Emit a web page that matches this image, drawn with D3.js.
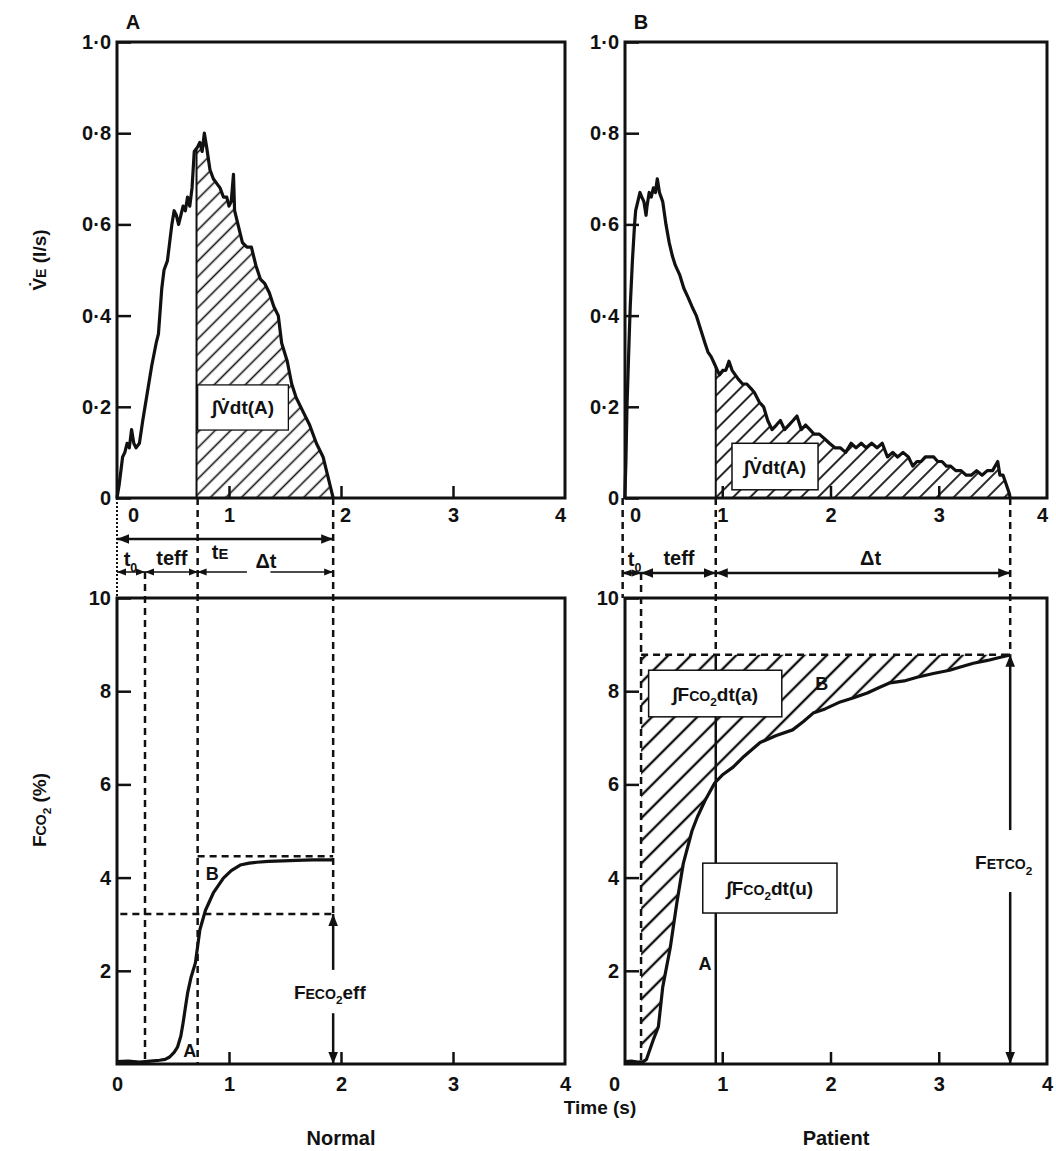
<!DOCTYPE html>
<html>
<head>
<meta charset="utf-8">
<title>Expired flow and CO2 - normal and patient</title>
<script src="https://cdnjs.cloudflare.com/ajax/libs/d3/7.8.5/d3.min.js"></script>
<style>
  body { margin: 0; background: #fff; }
  svg { font-family: 'Liberation Sans', Arial, sans-serif; font-weight: bold; }
  .tick text { font-size: 20px; font-weight: bold; fill: #111; }
  .tick line { stroke: #111; stroke-width: 2.5; }
</style>
</head>
<body>
<div id="chart"></div>
<script>
// ---- data ----
// A: normal subject, expiratory flow (l/s)
var normalTime = [0.00,0.02,0.05,0.07,0.09,0.11,0.13,0.15,0.17,0.20,0.23,0.27,0.31,0.35,0.37,0.40,0.42,0.45,0.47,0.49,
  0.51,0.53,0.55,0.57,0.59,0.61,0.63,0.65,0.67,0.69,0.72,0.74,0.76,0.78,0.80,0.83,0.86,0.89,0.92,0.95,0.98,1.00,1.02,
  1.04,1.05,1.08,1.12,1.16,1.20,1.24,1.28,1.32,1.36,1.40,1.44,1.47,1.52,1.56,1.60,1.66,1.72,1.78,1.84,1.88,1.91,1.93];
var normalFlow = [0.00,0.03,0.09,0.10,0.12,0.11,0.15,0.12,0.11,0.12,0.17,0.23,0.29,0.34,0.36,0.46,0.50,0.52,0.56,0.60,
  0.63,0.62,0.60,0.62,0.64,0.63,0.66,0.64,0.68,0.76,0.77,0.78,0.76,0.80,0.77,0.72,0.70,0.69,0.68,0.66,0.66,0.64,0.65,
  0.71,0.63,0.60,0.56,0.55,0.55,0.51,0.48,0.47,0.45,0.42,0.40,0.34,0.30,0.25,0.22,0.19,0.16,0.12,0.09,0.05,0.02,0.00];
// A: normal subject, CO2 fraction (%)
var normalCO2Time = [0,0.1,0.2,0.3,0.38,0.43,0.47,0.51,0.54,0.57,0.59,0.61,0.63,0.66,0.70,0.74,0.79,0.86,0.95,1.02,
  1.10,1.18,1.25,1.35,1.48,1.60,1.75,1.93];
var normalCO2 = [0.05,0.06,0.04,0.06,0.08,0.10,0.15,0.25,0.36,0.60,0.88,1.20,1.52,1.85,2.17,2.88,3.30,3.67,3.99,4.15,
  4.27,4.31,4.33,4.35,4.36,4.37,4.38,4.38];
// A: time marks (start, t0 end, teff end, end of expiration) and CO2 levels
var normalMarks = [0, 0.25, 0.72, 1.93];
var normalPlateau = 4.46;
var normalEff = 3.22;

// B: patient, expiratory flow (l/s)
var patientTime = [0.10,0.11,0.12,0.14,0.15,0.17,0.19,0.20,0.22,0.24,0.257,0.276,0.296,0.305,0.325,0.344,0.364,0.383,
  0.40,0.42,0.45,0.48,0.51,0.54,0.567,0.606,0.645,0.684,0.72,0.76,0.80,0.84,0.868,0.897,0.917,0.936,0.955,0.975,1.004,
  1.033,1.062,1.091,1.12,1.15,1.188,1.227,1.266,1.30,1.343,1.382,1.42,1.46,1.50,1.537,1.576,1.615,1.654,1.69,1.73,1.77,
  1.81,1.848,1.896,1.945,1.99,2.04,2.09,2.14,2.19,2.236,2.284,2.33,2.38,2.43,2.478,2.526,2.575,2.62,2.67,2.72,2.76,
  2.798,2.837,2.876,2.915,2.954,2.99,3.03,3.07,3.11,3.157,3.206,3.254,3.30,3.35,3.40,3.448,3.497,3.545,3.565,3.594,
  3.623,3.652,3.66];
var patientFlow = [0.00,0.08,0.20,0.35,0.42,0.52,0.60,0.63,0.65,0.67,0.66,0.65,0.62,0.64,0.67,0.66,0.68,0.67,
  0.70,0.67,0.65,0.60,0.56,0.53,0.51,0.49,0.46,0.44,0.42,0.40,0.37,0.34,0.32,0.31,0.30,0.29,0.28,0.27,0.28,
  0.28,0.30,0.28,0.27,0.26,0.25,0.25,0.24,0.23,0.21,0.20,0.17,0.15,0.16,0.17,0.15,0.16,0.17,0.18,0.15,0.16,
  0.15,0.14,0.14,0.13,0.12,0.11,0.11,0.10,0.12,0.11,0.12,0.11,0.12,0.11,0.12,0.09,0.10,0.09,0.10,0.09,0.07,
  0.08,0.08,0.09,0.09,0.09,0.08,0.08,0.07,0.07,0.06,0.06,0.05,0.05,0.06,0.05,0.06,0.06,0.08,0.05,0.05,
  0.03,0.01,0.00];
// B: patient, CO2 fraction (%)
var patientCO2Time = [0.11,0.16,0.22,0.27,0.30,0.33,0.36,0.41,0.45,0.52,0.58,0.64,0.72,0.77,0.84,0.93,1.00,1.10,1.20,
  1.35,1.50,1.65,1.75,1.84,1.95,2.09,2.20,2.34,2.45,2.55,2.68,2.80,2.95,3.10,3.20,3.32,3.45,3.57,3.66];
var patientCO2 = [0.05,0.06,0.04,0.05,0.10,0.30,0.50,0.80,1.65,2.50,3.45,4.30,5.00,5.30,5.65,6.03,6.20,6.37,6.60,
  6.90,7.05,7.17,7.35,7.53,7.62,7.77,7.85,7.96,8.08,8.18,8.22,8.30,8.38,8.45,8.52,8.60,8.66,8.73,8.78];
var patientMarks = [0.08, 0.25, 0.94, 3.66];
var patientPlateau = 8.78;

// ticks
var timeTicks = [0, 1, 2, 3, 4];
var flowTicks = [0, 0.2, 0.4, 0.6, 0.8, 1.0];
var flowTickLabels = ['0', '0·2', '0·4', '0·6', '0·8', '1·0'];
var co2Ticks = [2, 4, 6, 8, 10];

// ---- drawing ----
var W = 1056, H = 1151;
var ink = '#111';
var svg = d3.select('#chart').append('svg').attr('width', W).attr('height', H);
var defs = svg.append('defs');

function hatch(id, gap, sw) {
    var p = defs.append('pattern').attr('id', id)
        .attr('patternUnits', 'userSpaceOnUse')
        .attr('width', gap).attr('height', gap)
        .attr('patternTransform', 'rotate(45)');
    p.append('line').attr('x1', gap / 2).attr('y1', 0).attr('x2', gap / 2).attr('y2', gap)
        .attr('stroke', ink).attr('stroke-width', sw);
}
hatch('hatchA', 11, 1.6);
hatch('hatchB', 12, 1.8);
hatch('hatchC', 16, 2.4);

function arrowMarker(id, size) {
    defs.append('marker').attr('id', id)
        .attr('viewBox', '0 0 10 10').attr('refX', 10).attr('refY', 5)
        .attr('markerWidth', size).attr('markerHeight', size)
        .attr('markerUnits', 'userSpaceOnUse')
        .attr('orient', 'auto-start-reverse')
        .append('path').attr('d', 'M0,1 L10,5 L0,9 Z').attr('fill', ink);
}
arrowMarker('arrow', 12);
arrowMarker('arrowSmall', 9);

// value of a series at time t (linear between read points)
function valueAt(ts, vs, t) {
    var i = d3.bisectLeft(ts, t);
    if (i <= 0) return vs[0];
    if (i >= ts.length) return vs[vs.length - 1];
    var f = (t - ts[i - 1]) / (ts[i] - ts[i - 1]);
    return vs[i - 1] + f * (vs[i] - vs[i - 1]);
}
// part of a series between a and b
function slice(ts, vs, a, b) {
    var out = [[a, valueAt(ts, vs, a)]];
    ts.forEach(function(t, i) { if (t > a && t < b) out.push([t, vs[i]]); });
    out.push([b, valueAt(ts, vs, b)]);
    return out;
}

// text with small-caps and subscript parts: [text, 'n' | 's' | 'sub']
function richText(g, x, y, parts, size, anchor) {
    var t = g.append('text').attr('x', x).attr('y', y)
        .attr('text-anchor', anchor || 'middle')
        .attr('font-size', size).attr('fill', ink);
    var shifted = false;
    parts.forEach(function(p) {
        var s = t.append('tspan').text(p[0]);
        if (p[1] == 's') s.attr('font-size', size * 0.74);
        if (p[1] == 'sub') { s.attr('font-size', size * 0.62).attr('dy', size * 0.28); shifted = true; }
        else if (shifted) { s.attr('dy', -size * 0.28); shifted = false; }
    });
    return t;
}

function labelBox(g, x, y, x0, x1, v0, v1, parts, sw) {
    g.append('rect')
        .attr('x', x(x0)).attr('y', y(v0))
        .attr('width', x(x1) - x(x0)).attr('height', y(v1) - y(v0))
        .attr('fill', '#fff').attr('stroke', ink).attr('stroke-width', sw);
    richText(g, (x(x0) + x(x1)) / 2, (y(v0) + y(v1)) / 2 + 7, parts, 19);
}

var topY = d3.scaleLinear().domain([0, 1]).range([498, 42]);
var botY = d3.scaleLinear().domain([0, 10]).range([1064, 598]);

var panels = [
    { name: 'Normal', letter: 'A', frame: [117, 565], range: [117, 565], zeroShift: 16,
      ft: normalTime, fv: normalFlow, ct: normalCO2Time, cv: normalCO2, marks: normalMarks },
    { name: 'Patient', letter: 'B', frame: [625, 1047], range: [614, 1047], zeroShift: 21,
      ft: patientTime, fv: patientFlow, ct: patientCO2Time, cv: patientCO2, marks: patientMarks }
];

var dashed = '7,5';

panels.forEach(function(p) {
    var g = svg.append('g');
    var x = d3.scaleLinear().domain([0, 4]).range(p.range);
    var m = p.marks;

    var flowLine = d3.line().x(function(d) { return x(d[0]); }).y(function(d) { return topY(d[1]); });
    var co2Line = d3.line().x(function(d) { return x(d[0]); }).y(function(d) { return botY(d[1]); });

    // ----- hatched areas -----
    var flowPart = slice(p.ft, p.fv, m[2] - (p.letter == 'A' ? 0.01 : 0), m[3]);
    g.append('path').datum(flowPart)
        .attr('d', d3.area().x(function(d) { return x(d[0]); })
            .y0(topY(0)).y1(function(d) { return topY(d[1]); }))
        .attr('fill', p.letter == 'A' ? 'url(#hatchA)' : 'url(#hatchB)');
    var flowStart = flowPart[0];
    g.append('line')
        .attr('x1', x(flowStart[0])).attr('x2', x(flowStart[0]))
        .attr('y1', topY(0)).attr('y2', topY(flowStart[1]))
        .attr('stroke', ink).attr('stroke-width', 2);

    if (p.letter == 'B') {
        var co2Part = slice(p.ct, p.cv, m[1], m[3]);
        g.append('path').datum(co2Part)
            .attr('d', d3.area().x(function(d) { return x(d[0]); })
                .y0(botY(patientPlateau)).y1(function(d) { return botY(d[1]); }))
            .attr('fill', 'url(#hatchC)');
    }

    // ----- frames -----
    g.append('rect').attr('x', p.frame[0]).attr('y', topY(1))
        .attr('width', p.frame[1] - p.frame[0]).attr('height', topY(0) - topY(1))
        .attr('fill', 'none').attr('stroke', ink).attr('stroke-width', 3);
    g.append('rect').attr('x', p.frame[0]).attr('y', botY(10))
        .attr('width', p.frame[1] - p.frame[0]).attr('height', botY(0) - botY(10))
        .attr('fill', 'none').attr('stroke', ink).attr('stroke-width', 3);

    // ----- axes -----
    var ay = g.append('g').attr('transform', 'translate(' + p.frame[0] + ',0)')
        .call(d3.axisLeft(topY).tickValues(flowTicks).tickSize(-14).tickPadding(6)
            .tickFormat(function(d, i) { return flowTickLabels[i]; }));
    ay.select('.domain').remove();

    var by = g.append('g').attr('transform', 'translate(' + p.frame[0] + ',0)')
        .call(d3.axisLeft(botY).tickValues(co2Ticks).tickSize(-14).tickPadding(6));
    by.select('.domain').remove();

    var ax = g.append('g').attr('transform', 'translate(0,' + topY(0) + ')')
        .call(d3.axisBottom(x).tickValues(timeTicks).tickSize(-12).tickPadding(10).tickFormat(d3.format('d')));
    ax.select('.domain').remove();
    ax.selectAll('.tick line').attr('opacity', function(d) { return (d == 0 || d == 4) ? 0 : 1; });
    ax.selectAll('.tick text').attr('dx', function(d) { return d == 0 ? p.zeroShift : (d == 4 ? -5 : (d == 2 && p.letter == 'A' ? 4 : 0)); });

    var bx = g.append('g').attr('transform', 'translate(0,' + botY(0) + ')')
        .call(d3.axisBottom(x).tickValues(timeTicks).tickSize(-12).tickPadding(13).tickFormat(d3.format('d')));
    bx.select('.domain').remove();
    bx.selectAll('.tick line').attr('opacity', function(d) { return (d == 0 || d == 4) ? 0 : 1; });

    // ----- curves -----
    var flowData = p.ft.map(function(t, i) { return [t, p.fv[i]]; });
    var co2Data = p.ct.map(function(t, i) { return [t, p.cv[i]]; });
    g.append('path').datum(flowData).attr('d', flowLine)
        .attr('fill', 'none').attr('stroke', ink).attr('stroke-width', 3.2).attr('stroke-linejoin', 'round');
    g.append('path').datum(co2Data).attr('d', co2Line)
        .attr('fill', 'none').attr('stroke', ink).attr('stroke-width', 3.2).attr('stroke-linejoin', 'round');

    // ----- time marks -----
    function vline(t, ya, yb, dash, sw) {
        g.append('line').attr('x1', x(t)).attr('x2', x(t)).attr('y1', ya).attr('y2', yb)
            .attr('stroke', ink).attr('stroke-width', sw || 2.5)
            .attr('stroke-dasharray', dash);
    }
    function hline(v, ta, tb) {
        g.append('line').attr('x1', x(ta)).attr('x2', x(tb)).attr('y1', botY(v)).attr('y2', botY(v))
            .attr('stroke', ink).attr('stroke-width', 2.5).attr('stroke-dasharray', dashed);
    }
    function span(ta, tb, yy, sw, marker) {
        g.append('line').attr('x1', x(ta)).attr('x2', x(tb)).attr('y1', yy).attr('y2', yy)
            .attr('stroke', ink).attr('stroke-width', sw)
            .attr('marker-start', 'url(#' + marker + ')').attr('marker-end', 'url(#' + marker + ')');
    }
    function halfSpan(ta, tb, yy, sw, marker, atStart) {
        g.append('line').attr('x1', x(ta)).attr('x2', x(tb)).attr('y1', yy).attr('y2', yy)
            .attr('stroke', ink).attr('stroke-width', sw)
            .attr(atStart ? 'marker-start' : 'marker-end', 'url(#' + marker + ')');
    }
    function vArrow(t, vTop, vGapTop, vGapBot) {
        g.append('line').attr('x1', x(t)).attr('x2', x(t))
            .attr('y1', botY(vTop)).attr('y2', botY(vGapTop))
            .attr('stroke', ink).attr('stroke-width', 2.5).attr('marker-start', 'url(#arrow)');
        g.append('line').attr('x1', x(t)).attr('x2', x(t))
            .attr('y1', botY(vGapBot)).attr('y2', botY(0))
            .attr('stroke', ink).attr('stroke-width', 2.5).attr('marker-end', 'url(#arrow)');
    }

    if (p.letter == 'A') {
        vline(m[0], topY(0), botY(10), '2,2', 2);
        vline(m[1], 572, botY(0), dashed);
        vline(m[2], topY(0), botY(0), dashed);
        vline(m[3], topY(0), botY(normalEff), dashed);
        hline(normalPlateau, m[2], m[3]);
        hline(normalEff, 0.03, m[3]);
        vArrow(m[3], normalEff, 2.02, 1.09);

        span(m[0], m[3], 539, 2.5, 'arrow');
        span(m[0], m[1], 572, 1.5, 'arrowSmall');
        span(m[1], m[2], 572, 1.5, 'arrowSmall');
        halfSpan(m[2], 1.16, 572, 1.5, 'arrowSmall', true);
        halfSpan(1.37, m[3], 572, 1.5, 'arrowSmall', false);

        richText(g, x(0.12), 566, [['t', 'n'], ['0', 'sub']], 20);
        richText(g, x(0.49), 565, [['teff', 'n']], 20);
        richText(g, x(0.92), 559, [['t', 'n'], ['E', 's']], 20);
        richText(g, x(1.33), 568, [['Δt', 'n']], 20);

        labelBox(g, x, topY, 0.72, 1.53, 0.248, 0.149, [['∫V\u0307dt(A)', 'n']], 1.3);
        richText(g, x(1.9), botY(1.55) + 7, [['F', 'n'], ['ECO', 's'], ['2', 'sub'], ['eff', 'n']], 19);
        richText(g, x(0.85), botY(4.1) + 7, [['B', 'n']], 18);
        richText(g, x(0.65), botY(0.3) + 7, [['A', 'n']], 18);
    } else {
        vline(m[0], topY(0), botY(10), dashed);
        vline(m[1], 573, botY(0), dashed);
        vline(m[2], topY(0), botY(patientPlateau), dashed);
        vline(m[2], botY(patientPlateau), botY(0), null, 2.5);
        vline(m[3], topY(0), botY(patientPlateau), dashed);
        hline(patientPlateau, m[1], m[3]);
        vArrow(m[3], patientPlateau, 5.02, 3.69);

        span(m[0], m[1], 573, 2.5, 'arrowSmall');
        span(m[1], m[2], 573, 2.5, 'arrow');
        span(m[2], m[3], 573, 2.5, 'arrow');

        richText(g, x(0.19), 566, [['t', 'n'], ['0', 'sub']], 20);
        richText(g, x(0.6), 565, [['teff', 'n']], 20);
        richText(g, x(2.37), 565, [['Δt', 'n']], 20);

        labelBox(g, x, topY, 1.09, 1.885, 0.12, 0.018, [['∫V\u0307dt(A)', 'n']], 1.5);
        labelBox(g, x, botY, 0.32, 1.55, 8.45, 7.45,
            [['∫F', 'n'], ['CO', 's'], ['2', 'sub'], ['dt(a)', 'n']], 1.5);
        labelBox(g, x, botY, 0.82, 2.06, 4.31, 3.24,
            [['∫F', 'n'], ['CO', 's'], ['2', 'sub'], ['dt(u)', 'n']], 1.5);
        richText(g, x(3.6), botY(4.33) + 7, [['F', 'n'], ['ETCO', 's'], ['2', 'sub']], 19);
        richText(g, x(1.92), botY(8.18) + 7, [['B', 'n']], 18);
        richText(g, x(0.84), botY(2.17) + 7, [['A', 'n']], 18);
    }

    // panel letter and name
    svg.append('text').attr('x', p.frame[0] + 16).attr('y', 29)
        .attr('text-anchor', 'middle').attr('font-size', 20)
        .attr('fill', ink).text(p.letter);
    svg.append('text').attr('x', (p.frame[0] + p.frame[1]) / 2 + 0).attr('y', 1145)
        .attr('text-anchor', 'middle').attr('font-size', 20).attr('fill', ink).text(p.name);
});

// axis titles
var t1 = richText(svg, 0, 0, [['V\u0307', 'n'], ['E', 's'], [' (l/s)', 'n']], 19);
t1.attr('transform', 'translate(46,260) rotate(-90)');
var t2 = richText(svg, 0, 0, [['F', 'n'], ['CO', 's'], ['2', 'sub'], [' (%)', 'n']], 19);
t2.attr('transform', 'translate(46,810) rotate(-90)');

svg.append('text').attr('x', 600).attr('y', 1114).attr('text-anchor', 'middle')
    .attr('font-size', 19).attr('fill', ink).text('Time (s)');
</script>
</body>
</html>
